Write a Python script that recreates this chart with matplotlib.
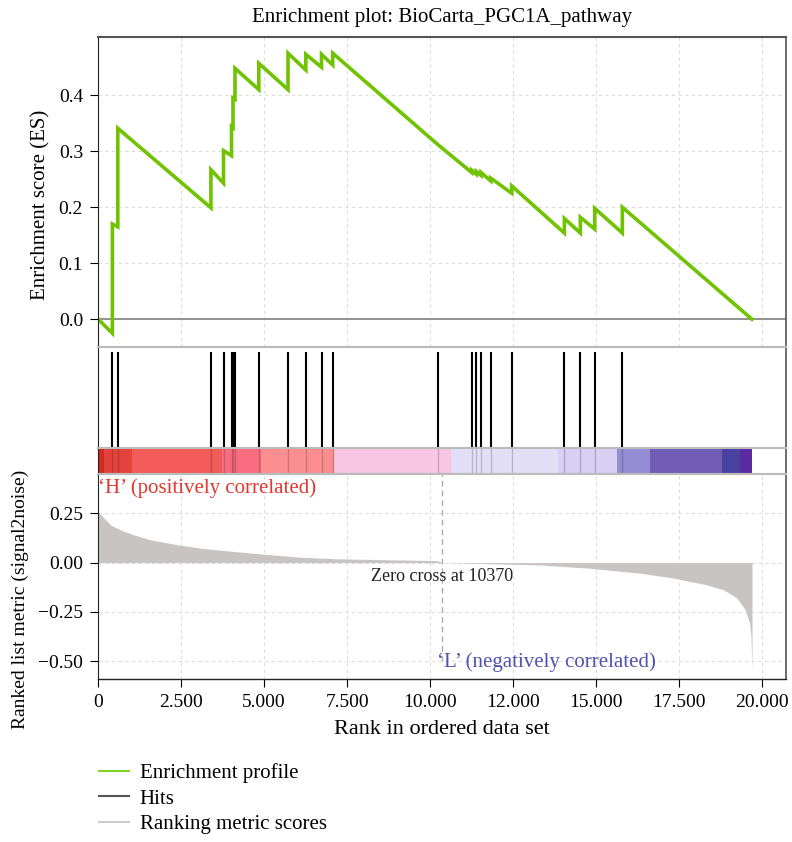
import matplotlib
matplotlib.use('Agg')
import matplotlib.pyplot as plt
from matplotlib.lines import Line2D

plt.rcParams['font.family'] = ['Liberation Serif', 'DejaVu Serif']
plt.rcParams['font.size'] = 15

# Enrichment score profile (vertices)
es_rank = [0, 425, 425, 588, 588, 3395, 3395, 3775, 3775, 4016, 4016, 4061, 4061, 4121, 4121,
           4839, 4839, 5719, 5719, 6256, 6256, 6729, 6729, 7067, 7067, 10232,
           11257, 11257, 11396, 11396, 11538, 11538, 11830, 11830, 12463, 12463,
           14049, 14049, 14531, 14531, 14965, 14965, 15797, 15797, 19705]
es_value = [0.0, -0.025, 0.17, 0.165, 0.341, 0.199, 0.267, 0.243, 0.301, 0.292, 0.344, 0.342, 0.395, 0.393, 0.448,
            0.41, 0.457, 0.41, 0.475, 0.445, 0.473, 0.45, 0.473, 0.454, 0.475, 0.312,
            0.262, 0.266, 0.259, 0.264, 0.257, 0.262, 0.247, 0.252, 0.225, 0.238,
            0.154, 0.18, 0.154, 0.182, 0.161, 0.198, 0.154, 0.20, 0.0]

# Hit positions in the ranked list
hits = [425, 588, 3395, 3775, 4016, 4061, 4121, 4839, 5719, 6256, 6729, 7067,
        10232, 11257, 11396, 11538, 11830, 12463, 14049, 14531, 14965, 15797]

# Ranked list metric
metric_rank = [0, 60, 175, 376, 678, 1080, 1580, 2385, 3087, 4090, 5295, 6100, 7205, 8810,
               10217, 10370, 13328, 14834, 16340, 17343, 18350, 18850, 19253, 19503, 19633, 19675, 19705]
metric_value = [0.258, 0.245, 0.225, 0.19, 0.165, 0.14, 0.115, 0.09, 0.073, 0.056, 0.038, 0.027, 0.019, 0.014,
                0.01, 0.0, -0.012, -0.029, -0.054, -0.079, -0.113, -0.138, -0.18, -0.24, -0.307, -0.375, -0.55]
zero_cross = 10370

# Colour bar blocks along the ranked list
cb_edges = [0, 170, 1010, 3720, 4900, 7100, 10620, 13870, 15650, 16640, 18800, 19350, 19705]
cb_colors = ['#D32B22', '#E4433D', '#F25B58', '#F96C80', '#FB8F90', '#F8C6E2',
             '#E2DEF6', '#D9CEF3', '#968CD3', '#725DB6', '#4A42A0', '#5B2BA0']

x_ticks = [0, 2500, 5000, 7500, 10000, 12500, 15000, 17500, 20000]
x_tick_labels = ['0', '2.500', '5.000', '7.500', '10.000', '12.000', '15.000', '17.500', '20.000']
es_ticks = [0.0, 0.1, 0.2, 0.3, 0.4]
metric_ticks = [0.25, 0.0, -0.25, -0.5]

green = '#6FC300'
grid_kw = dict(color='#DDDDDD', linestyle=(0, (3, 3)), linewidth=0.8)
xmax = 20730

fig = plt.figure(figsize=(7.92, 8.42), dpi=100)
left, width = 0.1241, 0.8683
ax1 = fig.add_axes([left, 0.5879, width, 0.3682])
ax2 = fig.add_axes([left, 0.4679, width, 0.1200])
ax3 = fig.add_axes([left, 0.4371, width, 0.0308])
ax4 = fig.add_axes([left, 0.1936, width, 0.2435])

for ax in (ax1, ax2, ax3, ax4):
    ax.set_xlim(0, xmax)
    ax.set_xticks(x_ticks)
    for side in ('top', 'bottom'):
        ax.spines[side].set_color('#BBBBBB')
        ax.spines[side].set_linewidth(1.5)
    ax.spines['left'].set_color('#222222')
    ax.spines['right'].set_color('#555555')
    ax.spines['right'].set_linewidth(1.2)

# Top panel: enrichment score
ax1.set_ylim(-0.0495, 0.504)
ax1.set_yticks(es_ticks)
ax1.set_yticklabels(['0.0', '0.1', '0.2', '0.3', '0.4'], fontsize=14)
ax1.grid(True, **grid_kw)
ax1.set_axisbelow(True)
ax1.axhline(0, color='#8A8A8A', linewidth=1.3)
ax1.plot(es_rank, es_value, color=green, linewidth=2.6, solid_joinstyle='miter')
ax1.tick_params(axis='x', bottom=False, labelbottom=False)
ax1.tick_params(axis='y', length=6, direction='out', pad=5)
ax1.spines['top'].set_color('#555555')
ax1.set_ylabel('Enrichment score (ES)')
ax1.yaxis.set_label_coords(-0.070, 0.46)
ax1.set_title('Enrichment plot: BioCarta_PGC1A_pathway', fontsize=15, pad=11)

# Hits panel
ax2.set_ylim(0, 1)
ax2.vlines(hits, 0, 0.95, color='black', linewidth=1.5)
ax2.set_xticks([])
ax2.set_yticks([])

# Colour bar panel
ax3.set_ylim(0, 1)
for i, c in enumerate(cb_colors):
    ax3.axvspan(cb_edges[i], cb_edges[i + 1], color=c, linewidth=0)
ax3.vlines(hits, 0, 1, color='black', linewidth=1.0, alpha=0.18)
ax3.set_xticks([])
ax3.set_yticks([])

# Bottom panel: ranked list metric
ax4.set_ylim(-0.59, 0.449)
ax4.set_yticks(metric_ticks)
ax4.set_yticklabels(['0.25', '0.00', '\u22120.25', '\u22120.50'], fontsize=14)
ax4.grid(True, **grid_kw)
ax4.set_axisbelow(True)
ax4.fill_between(metric_rank, metric_value, 0, color='#C9C4C4', linewidth=0)
ax4.vlines(zero_cross, -0.5, 0.449, color='#AAAAAA', linewidth=1.0, linestyles=(0, (4, 3)))
ax4.set_xticklabels(x_tick_labels, fontsize=14)
ax4.tick_params(length=6, direction='out', pad=5)
ax4.spines['bottom'].set_color('#222222')
ax4.spines['bottom'].set_linewidth(1.0)
ax4.set_xlabel('Rank in ordered data set', labelpad=6, fontsize=16)
ax4.set_ylabel('Ranked list metric (signal2noise)', fontsize=14)
ax4.yaxis.set_label_coords(-0.101, 0.39)
ax4.text(zero_cross, -0.072, 'Zero cross at 10370', ha='center', va='center', color='#222222', fontsize=13)
ax4.text(0, 0.379, '\u2018H\u2019 (positively correlated)', ha='left', va='center', color='#E2362F')
ax4.text(zero_cross - 150, -0.503, '\u2018L\u2019 (negatively correlated)', ha='left', va='center', color='#5252B0')

# Legend under the plot
handles = [Line2D([], [], color='#7FD321', linewidth=1.5),
           Line2D([], [], color='#555555', linewidth=1.5),
           Line2D([], [], color='#CCCCCC', linewidth=1.5)]
labels = ['Enrichment profile', 'Hits', 'Ranking metric scores']
fig.legend(handles, labels, loc='upper left', bbox_to_anchor=(0.112, 0.1063), frameon=False,
           handlelength=1.45, handletextpad=0.5, labelspacing=0.3, borderpad=0, fontsize=15)

fig.savefig('out.png', dpi=100)
